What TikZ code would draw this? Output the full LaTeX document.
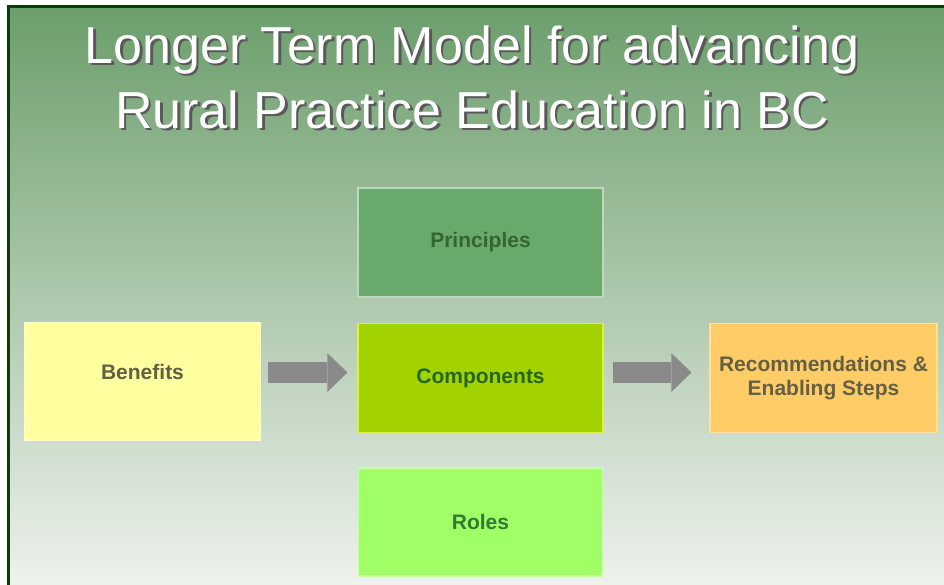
\documentclass[tikz,border=0pt]{standalone}
\usepackage{fontspec}
\setmainfont{Liberation Sans}
\usepackage{tikz}
\usetikzlibrary{arrows.meta}

\begin{document}
\begin{tikzpicture}
		[x=1pt,y=-1pt,line cap=butt,
		%Styles
		title text/.style={anchor=base,font=\fontsize{52}{60}\selectfont,inner sep=0pt},
		box/.style={rectangle,inner sep=0pt,line width=1.2pt,align=center,
			font=\fontsize{21}{24}\selectfont\bfseries,
			minimum width=245pt,minimum height=109pt},
		block arrow/.style={color=arrowgray,line width=21pt,
			-{Triangle[length=20pt,width=39pt,line width=0pt]}}
		]
		
		%Colors
		\definecolor{framegreen}{HTML}{0B3D0B}
		\definecolor{bgtop}{HTML}{6C9E6C}
		\definecolor{bgmid}{HTML}{AEC5AB}
		\definecolor{bgbottom}{HTML}{F2F4F0}
		\definecolor{arrowgray}{HTML}{8A8A8A}
		\definecolor{principlesfill}{HTML}{6AA96C}
		\definecolor{benefitsfill}{HTML}{FFFFA0}
		\definecolor{componentsfill}{HTML}{A2D200}
		\definecolor{recommendfill}{HTML}{FFCC66}
		\definecolor{rolesfill}{HTML}{A0FF66}
		
		%Background and frame
		\useasboundingbox (0,0) rectangle (944,584);
		\clip (0,0) rectangle (944,584);
		\fill[white] (0,0) rectangle (944,584);
		\shade[top color=bgtop,middle color=bgmid,bottom color=bgbottom] (8.5,6.5) rectangle (960,600);
		\draw[framegreen,line width=2.5pt] (8.5,6.5) rectangle (960,600);
		
		%The title
		\node[title text,text=black!65] (title1s) at (474.5,65.5) {Longer Term Model for advancing};
		\node[title text,text=white] (title1) at (472,63) {Longer Term Model for advancing};
		\node[title text,text=black!65] (title2s) at (474.5,130.5) {Rural Practice Education in BC};
		\node[title text,text=white] (title2) at (472,128) {Rural Practice Education in BC};
		
		%The graphic
		\node[box,fill=principlesfill,draw=principlesfill!45!white,text=green!25!black!80] (principles) at (480.5,242.5) {Principles};
		\node[box,fill=benefitsfill,draw=benefitsfill!60!white,text=olive!35!black!85,
			minimum width=236pt,minimum height=117pt,text depth=20pt] (benefits) at (142.5,381.5) {Benefits};
		\node[box,fill=componentsfill,draw=componentsfill!50!yellow!70!white,text=green!30!black!85] (components) at (480.5,378) {Components};
		\node[box,fill=recommendfill,draw=recommendfill!60!white,text=olive!35!black!85,
			minimum width=227pt] (recommend) at (823.5,378) {Recommendations \&\\Enabling Steps};
		\node[box,fill=rolesfill,draw=rolesfill!60!white,text=green!35!black!80,
			minimum width=244pt,minimum height=108pt] (roles) at (480.5,522) {Roles};
		
		\draw[block arrow,shorten <=7pt,shorten >=10pt]
			([yshift=5.5pt]benefits.east |- components.west) -- ([yshift=5.5pt]components.west);
		\draw[block arrow,shorten <=9pt,shorten >=18pt]
			([yshift=5.5pt]components.east) -- ([yshift=5.5pt]recommend.west);
	\end{tikzpicture}
\end{document}
